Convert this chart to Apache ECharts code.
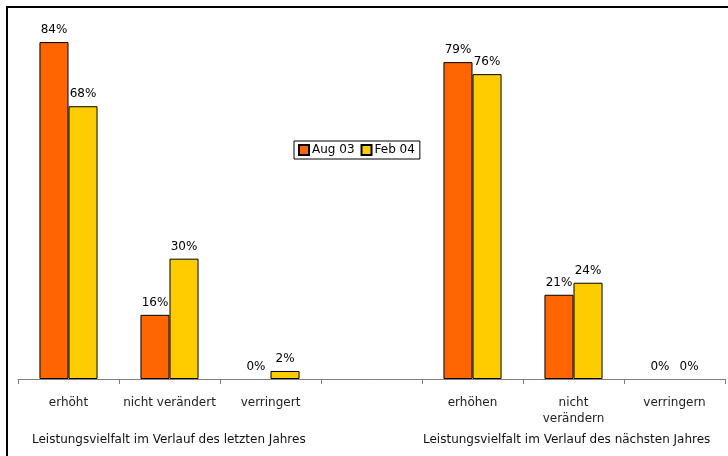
<!DOCTYPE html>
<html><head><meta charset="utf-8">
<script src="https://cdn.jsdelivr.net/npm/echarts@6/dist/echarts.min.js"></script>
<style>html,body{margin:0;padding:0;background:#fff}#c{width:728px;height:456px}</style>
</head><body><div id="c"></div>
<script>
const categories = ['erhöht', 'nicht verändert', 'verringert', '', 'erhöhen', 'nicht\nverändern', 'verringern'];
const seriesNames = ['Aug 03', 'Feb 04'];
const aug03 = [84, 16, 0, null, 79, 21, 0];
const feb04 = [68, 30, 2, null, 76, 24, 0];
const groupTitles = ['Leistungsvielfalt im Verlauf des letzten Jahres', 'Leistungsvielfalt im Verlauf des nächsten Jahres'];

const font = 'DejaVu Sans, Verdana, sans-serif';
const chart = echarts.init(document.getElementById('c'), null, {renderer: 'canvas'});
const lbl = {show: true, position: 'top', distance: 6, formatter: p => p.value == null ? '' : p.value + '%', color: '#000', fontSize: 12, fontFamily: font};
const toData = arr => arr.map(v => v === 0 ? {value: 0, itemStyle: {borderWidth: 0}} : v);
chart.setOption({
  animation: false,
  textStyle: {fontFamily: font},
  grid: {left: 18, right: 3, top: 18, bottom: 77},
  legend: {
    data: seriesNames, left: 294, top: 141, orient: 'horizontal',
    itemWidth: 10, itemHeight: 10, itemGap: 6, padding: [3, 5, 3, 4],
    borderColor: '#000', borderWidth: 1, backgroundColor: '#fff',
    textStyle: {fontSize: 12, color: '#000', fontFamily: font, padding: [0, 0, 0, -2]},
    icon: 'rect'
  },
  xAxis: {
    type: 'category', data: categories,
    axisLine: {lineStyle: {color: '#808080', width: 1}},
    axisTick: {show: true, length: 5, lineStyle: {color: '#808080'}},
    axisLabel: {color: '#222', fontSize: 12, fontFamily: font, margin: 16, interval: 0, lineHeight: 16}
  },
  yAxis: {type: 'value', min: 0, max: 90, show: false, splitLine: {show: false}},
  series: [
    {name: seriesNames[0], type: 'bar', data: toData(aug03), barGap: '0%', barCategoryGap: '42.5%',
     itemStyle: {color: '#FF6600', borderColor: '#000', borderWidth: 1}, label: lbl},
    {name: seriesNames[1], type: 'bar', data: toData(feb04), barGap: '0%', barCategoryGap: '42.5%',
     itemStyle: {color: '#FFCC00', borderColor: '#000', borderWidth: 1}, label: lbl}
  ],
  graphic: [
    {type: 'line', shape: {x1: 7, y1: 7, x2: 7, y2: 456}, style: {stroke: '#000', lineWidth: 2}},
    {type: 'line', shape: {x1: 6, y1: 7, x2: 728, y2: 7}, style: {stroke: '#000', lineWidth: 2}},
    {type: 'text', left: 32, top: 434, style: {text: groupTitles[0], fill: '#111', font: '12px ' + font}},
    {type: 'text', left: 423, top: 434, style: {text: groupTitles[1], fill: '#111', font: '12px ' + font}}
  ]
});
</script></body></html>
